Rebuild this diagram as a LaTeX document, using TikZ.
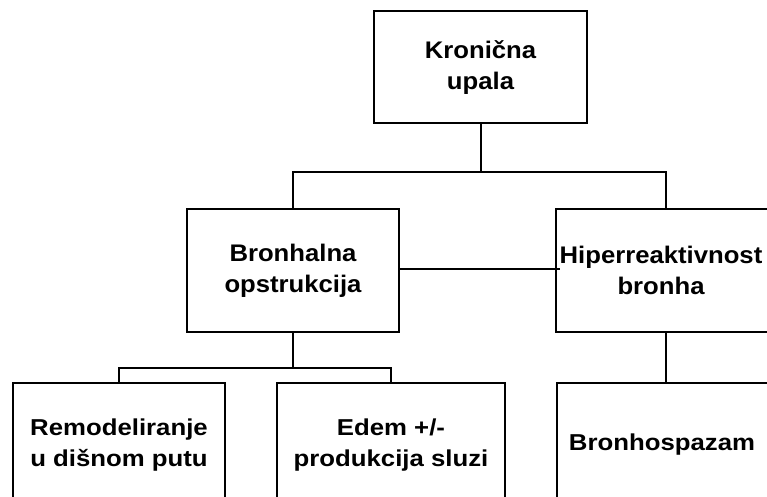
\documentclass[tikz,border=0pt]{standalone}
\usepackage{fontspec}
\setmainfont{Liberation Sans}
\newfontfamily\upperfont[FakeStretch=1.07]{Liberation Sans}
\newfontfamily\lowerfont[FakeStretch=1.12]{Liberation Sans}
\begin{document}
\begin{tikzpicture}[x=1pt,y=-1pt,
  box/.style={draw=black, line width=2pt, fill=white, inner sep=0pt, align=center},
  upperbox/.style={box, font=\upperfont\bfseries\fontsize{24}{30.6}\selectfont},
  lowerbox/.style={box, font=\lowerfont\bfseries\fontsize{23}{30.7}\selectfont},
  link/.style={draw=black, line width=2pt}]
\clip (0,0) rectangle (767,497);
\fill[white] (0,0) rectangle (767,497);
% boxes
\node[upperbox, minimum width=213pt, minimum height=112pt] (kron) at (480.5,67.5) {Kronična\\upala};
\node[upperbox, minimum width=212pt, minimum height=123pt] (bron) at (293,270.5) {Bronhalna\\opstrukcija};
\node[upperbox, minimum width=220pt, minimum height=123pt] (hiper) at (666,270.5) {\hbox{Hiperreaktivnost\kern10pt}\\\hbox{bronha\kern10pt}};
\node[lowerbox, minimum width=212pt, minimum height=124pt] (remod) at (119,445) {Remodeliranje\\u dišnom putu};
\node[lowerbox, minimum width=228pt, minimum height=124pt] (edem) at (391,445) {Edem +/-\\produkcija sluzi};
\node[lowerbox, minimum width=216pt, minimum height=124pt] (bspaz) at (665,445) {\hbox{Bronhospazam\kern6pt}};
% connectors
\coordinate (topbar) at (480.5,172);
\coordinate (lowbar) at (293,368);
\draw[link] (kron.south) -- (topbar);
\draw[link] (bron.north) |- (hiper.north |- topbar) -- (hiper.north);
\draw[link] ([yshift=1.5pt]bron.east) -- ([xshift=5pt,yshift=1.5pt]hiper.west);
\draw[link] (bron.south) -- (lowbar);
\draw[link] (remod.north) |- (edem.north |- lowbar) -- (edem.north);
\draw[link] (hiper.south) -- (hiper.south |- bspaz.north);
\end{tikzpicture}
\end{document}
